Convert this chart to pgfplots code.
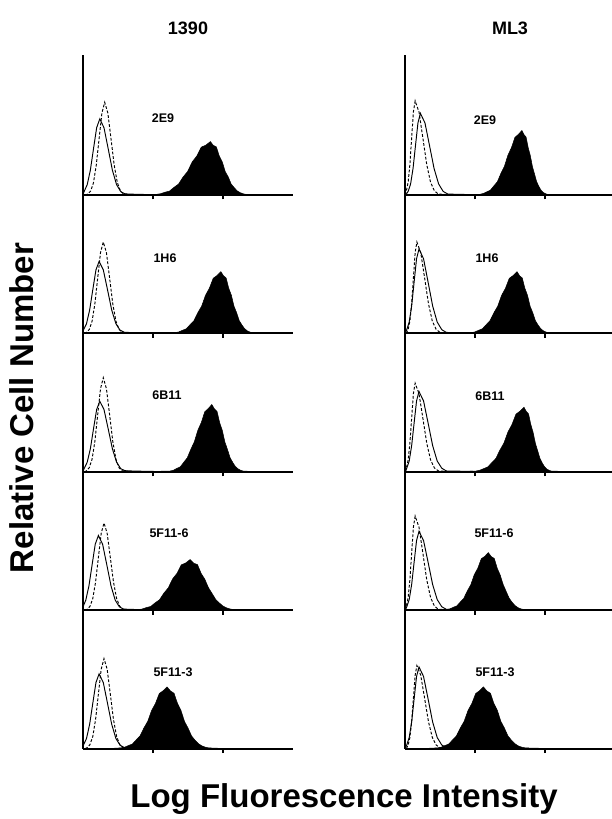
\documentclass[border=0pt]{standalone}
\usepackage{fontspec}
\setmainfont{Liberation Sans}
\usepackage{pgfplots}
\pgfplotsset{compat=1.18}
\pgfplotsset{
 panel/.style={scale only axis, width=210pt, height=138.4pt, xmin=0, xmax=3, ymin=0, ymax=1,
   axis x line=bottom, axis y line=left, axis line style={line width=2pt, -},
   xtick={1,2}, xticklabels={}, ytick=\empty, major tick length=4.5pt, tick align=outside,
   tick style={line width=1.6pt, black}, anchor=south west},
 ctrl/.style={black, line width=0.95pt},
 dctrl/.style={black, line width=0.95pt, dash pattern=on 2.8pt off 1.8pt},
 pos/.style={fill=black, draw=black, line width=0.5pt},
}
\begin{document}
\begin{tikzpicture}
\path[use as bounding box] (0,0) rectangle (611pt,819pt);
% ---------------- LEFT COLUMN (1390) ----------------
\begin{axis}[panel, at={(83pt,624pt)}, height=140pt, ymax=1.0116]
\addplot[pos] coordinates {(0.9,0.003)(1.04,0.004)(1.105,0.009)(1.17,0.020)(1.235,0.028)(1.30,0.055)(1.365,0.079)(1.43,0.130)(1.495,0.170)(1.56,0.239)(1.625,0.281)(1.69,0.346)(1.755,0.360)(1.82,0.386)(1.862,0.358)(1.905,0.348)(1.947,0.281)(1.99,0.239)(2.032,0.169)(2.075,0.130)(2.117,0.079)(2.16,0.053)(2.202,0.030)(2.245,0.017)(2.287,0.009)(2.33,0.004)(2.5,0.002)} \closedcycle;
\addplot[ctrl] coordinates {(0,0)(0.015,0.024)(0.06,0.074)(0.105,0.179)(0.15,0.334)(0.195,0.486)(0.24,0.55)(0.30,0.486)(0.36,0.334)(0.42,0.179)(0.48,0.074)(0.54,0.024)(0.60,0.008)(0.69,0.006)(0.84,0.004)(1.04,0.002)(1.3,0)};
\addplot[dctrl] coordinates {(0.03,0)(0.07,0.007)(0.11,0.029)(0.15,0.090)(0.19,0.218)(0.23,0.407)(0.27,0.592)(0.31,0.67)(0.355,0.592)(0.40,0.407)(0.445,0.218)(0.49,0.090)(0.535,0.029)(0.58,0.007)(0.66,0.004)};
\end{axis}
\begin{axis}[panel, at={(83pt,485.6pt)}]
\addplot[pos] coordinates {(1.15,0.003)(1.31,0.005)(1.365,0.010)(1.42,0.022)(1.475,0.033)(1.53,0.063)(1.585,0.092)(1.64,0.149)(1.695,0.197)(1.75,0.275)(1.805,0.326)(1.86,0.398)(1.915,0.418)(1.97,0.446)(2.007,0.416)(2.045,0.400)(2.082,0.326)(2.12,0.275)(2.157,0.196)(2.195,0.149)(2.232,0.092)(2.27,0.061)(2.307,0.035)(2.345,0.019)(2.382,0.010)(2.42,0.005)(2.55,0.002)} \closedcycle;
\addplot[ctrl] coordinates {(0,0)(0.005,0.023)(0.05,0.070)(0.095,0.169)(0.14,0.316)(0.185,0.459)(0.23,0.52)(0.29,0.459)(0.35,0.316)(0.41,0.169)(0.47,0.070)(0.53,0.023)(0.59,0.008)(0.68,0.006)(0.83,0.004)(1.03,0.002)(1.3,0)};
\addplot[dctrl] coordinates {(0.02,0)(0.05,0.007)(0.09,0.029)(0.13,0.089)(0.17,0.215)(0.21,0.401)(0.25,0.583)(0.29,0.66)(0.335,0.583)(0.38,0.401)(0.425,0.215)(0.47,0.089)(0.515,0.029)(0.56,0.007)(0.64,0.004)};
\end{axis}
\begin{axis}[panel, at={(83pt,347.2pt)}]
\addplot[pos] coordinates {(1.0,0.003)(1.24,0.005)(1.29,0.011)(1.34,0.024)(1.39,0.036)(1.44,0.069)(1.49,0.101)(1.54,0.162)(1.59,0.216)(1.64,0.299)(1.69,0.356)(1.74,0.434)(1.79,0.457)(1.84,0.486)(1.877,0.455)(1.915,0.436)(1.952,0.356)(1.99,0.299)(2.027,0.215)(2.065,0.159)(2.102,0.101)(2.14,0.067)(2.177,0.038)(2.215,0.021)(2.252,0.011)(2.29,0.005)(2.45,0.002)} \closedcycle;
\addplot[ctrl] coordinates {(0,0)(0.015,0.022)(0.06,0.069)(0.105,0.166)(0.15,0.310)(0.195,0.450)(0.24,0.51)(0.30,0.450)(0.36,0.310)(0.42,0.166)(0.48,0.069)(0.54,0.022)(0.60,0.008)(0.69,0.006)(0.84,0.004)(1.04,0.002)(1.3,0)};
\addplot[dctrl] coordinates {(0.02,0)(0.05,0.007)(0.09,0.030)(0.13,0.092)(0.17,0.221)(0.21,0.413)(0.25,0.600)(0.29,0.68)(0.335,0.600)(0.38,0.413)(0.425,0.221)(0.47,0.092)(0.515,0.030)(0.56,0.007)(0.64,0.004)};
\end{axis}
\begin{axis}[panel, at={(83pt,208.8pt)}]
\addplot[pos] coordinates {(0.65,0.003)(0.78,0.004)(0.8425,0.008)(0.905,0.019)(0.9675,0.027)(1.03,0.053)(1.0925,0.075)(1.155,0.123)(1.2175,0.161)(1.28,0.226)(1.3425,0.266)(1.405,0.328)(1.4675,0.341)(1.53,0.366)(1.5825,0.339)(1.635,0.330)(1.6875,0.266)(1.74,0.224)(1.7925,0.162)(1.845,0.120)(1.8975,0.076)(1.95,0.051)(2.0025,0.029)(2.055,0.016)(2.1075,0.008)(2.16,0.004)(2.3,0.002)} \closedcycle;
\addplot[ctrl] coordinates {(0,0)(0,0.024)(0.04,0.073)(0.085,0.176)(0.13,0.328)(0.175,0.477)(0.22,0.54)(0.28,0.477)(0.34,0.328)(0.40,0.176)(0.46,0.073)(0.52,0.024)(0.58,0.008)(0.67,0.006)(0.82,0.004)(1.02,0.002)(1.3,0)};
\addplot[dctrl] coordinates {(0.03,0)(0.06,0.007)(0.10,0.028)(0.14,0.085)(0.18,0.205)(0.22,0.382)(0.26,0.556)(0.30,0.63)(0.345,0.556)(0.39,0.382)(0.435,0.205)(0.48,0.085)(0.525,0.028)(0.57,0.007)(0.65,0.004)};
\end{axis}
\begin{axis}[panel, at={(83pt,70.4pt)}]
\addplot[pos] coordinates {(0.45,0.003)(0.54,0.005)(0.595,0.010)(0.65,0.022)(0.705,0.033)(0.76,0.063)(0.815,0.092)(0.87,0.149)(0.925,0.197)(0.98,0.275)(1.035,0.326)(1.09,0.398)(1.145,0.418)(1.2,0.446)(1.25,0.416)(1.30,0.400)(1.35,0.326)(1.40,0.275)(1.45,0.196)(1.50,0.149)(1.55,0.092)(1.60,0.061)(1.65,0.035)(1.70,0.019)(1.75,0.010)(1.80,0.005)(1.95,0.002)} \closedcycle;
\addplot[ctrl] coordinates {(0,0)(0.005,0.024)(0.05,0.073)(0.095,0.176)(0.14,0.328)(0.185,0.477)(0.23,0.54)(0.29,0.477)(0.35,0.328)(0.41,0.176)(0.47,0.073)(0.53,0.024)(0.59,0.008)(0.68,0.006)(0.83,0.004)(1.03,0.002)(1.3,0)};
\addplot[dctrl] coordinates {(0.03,0)(0.06,0.007)(0.10,0.029)(0.14,0.088)(0.18,0.211)(0.22,0.395)(0.26,0.574)(0.30,0.65)(0.345,0.574)(0.39,0.395)(0.435,0.211)(0.48,0.088)(0.525,0.029)(0.57,0.007)(0.65,0.004)};
\end{axis}
% ---------------- RIGHT COLUMN (ML3) ----------------
\begin{axis}[panel, at={(405pt,624pt)}, height=140pt, ymax=1.0116]
\addplot[pos] coordinates {(0.9,0.003)(1.07,0.005)(1.12,0.011)(1.17,0.023)(1.22,0.035)(1.27,0.066)(1.32,0.096)(1.37,0.156)(1.42,0.207)(1.47,0.287)(1.52,0.341)(1.57,0.416)(1.62,0.438)(1.67,0.466)(1.70,0.436)(1.73,0.418)(1.76,0.341)(1.79,0.285)(1.82,0.206)(1.85,0.152)(1.88,0.097)(1.91,0.064)(1.94,0.037)(1.97,0.020)(2.00,0.011)(2.03,0.005)(2.3,0.002)} \closedcycle;
\addplot[ctrl] coordinates {(0,0)(0.02,0.008)(0.045,0.026)(0.08,0.080)(0.115,0.192)(0.15,0.358)(0.185,0.521)(0.22,0.59)(0.285,0.521)(0.35,0.358)(0.415,0.192)(0.48,0.080)(0.545,0.026)(0.61,0.007)(0.72,0.005)(0.92,0.003)(1.2,0)};
\addplot[dctrl] coordinates {(0.005,0)(0.02,0.030)(0.045,0.092)(0.07,0.221)(0.095,0.413)(0.12,0.600)(0.145,0.68)(0.20,0.600)(0.255,0.413)(0.31,0.221)(0.365,0.092)(0.42,0.030)(0.475,0.007)(0.565,0.004)};
\end{axis}
\begin{axis}[panel, at={(405pt,485.6pt)}]
\addplot[pos] coordinates {(0.8,0.003)(0.94,0.005)(0.995,0.010)(1.05,0.022)(1.105,0.033)(1.16,0.063)(1.215,0.092)(1.27,0.149)(1.325,0.197)(1.38,0.275)(1.435,0.326)(1.49,0.398)(1.545,0.418)(1.60,0.446)(1.6375,0.416)(1.675,0.400)(1.7125,0.326)(1.75,0.275)(1.7875,0.196)(1.825,0.149)(1.8625,0.092)(1.90,0.061)(1.9375,0.035)(1.975,0.019)(2.0125,0.010)(2.05,0.005)(2.3,0.002)} \closedcycle;
\addplot[ctrl] coordinates {(0,0)(0.01,0.008)(0.025,0.027)(0.06,0.082)(0.095,0.198)(0.13,0.370)(0.165,0.539)(0.20,0.61)(0.265,0.539)(0.33,0.370)(0.395,0.198)(0.46,0.082)(0.525,0.027)(0.59,0.007)(0.70,0.005)(0.90,0.003)(1.2,0)};
\addplot[dctrl] coordinates {(0.02,0)(0.045,0.029)(0.07,0.089)(0.095,0.215)(0.12,0.401)(0.145,0.583)(0.17,0.66)(0.225,0.583)(0.28,0.401)(0.335,0.215)(0.39,0.089)(0.445,0.029)(0.50,0.007)(0.59,0.004)};
\end{axis}
\begin{axis}[panel, at={(405pt,347.2pt)}]
\addplot[pos] coordinates {(0.85,0.003)(1.01,0.005)(1.0675,0.011)(1.125,0.023)(1.1825,0.035)(1.24,0.066)(1.2975,0.096)(1.355,0.156)(1.4125,0.207)(1.47,0.287)(1.5275,0.341)(1.585,0.416)(1.6425,0.438)(1.70,0.466)(1.7325,0.436)(1.765,0.418)(1.7975,0.341)(1.83,0.285)(1.8625,0.206)(1.895,0.152)(1.9275,0.097)(1.96,0.064)(1.9925,0.037)(2.025,0.020)(2.0575,0.011)(2.09,0.005)(2.35,0.002)} \closedcycle;
\addplot[ctrl] coordinates {(0,0)(0.01,0.008)(0.025,0.026)(0.06,0.078)(0.095,0.189)(0.13,0.352)(0.165,0.512)(0.20,0.58)(0.265,0.512)(0.33,0.352)(0.395,0.189)(0.46,0.078)(0.525,0.026)(0.59,0.006)(0.70,0.005)(0.90,0.003)(1.2,0)};
\addplot[dctrl] coordinates {(0.005,0)(0.02,0.028)(0.045,0.086)(0.07,0.208)(0.095,0.388)(0.12,0.565)(0.145,0.64)(0.20,0.565)(0.255,0.388)(0.31,0.208)(0.365,0.086)(0.42,0.028)(0.475,0.007)(0.565,0.004)};
\end{axis}
\begin{axis}[panel, at={(405pt,208.8pt)}]
\addplot[pos] coordinates {(0.45,0.003)(0.59,0.005)(0.64,0.009)(0.69,0.021)(0.74,0.031)(0.79,0.059)(0.84,0.086)(0.89,0.139)(0.94,0.184)(0.99,0.257)(1.04,0.303)(1.09,0.372)(1.14,0.389)(1.19,0.416)(1.2325,0.387)(1.275,0.374)(1.3175,0.303)(1.36,0.254)(1.4025,0.185)(1.445,0.136)(1.4875,0.087)(1.53,0.057)(1.5725,0.033)(1.615,0.018)(1.6575,0.009)(1.70,0.005)(1.95,0.002)} \closedcycle;
\addplot[ctrl] coordinates {(0,0)(0.01,0.008)(0.025,0.025)(0.06,0.077)(0.095,0.185)(0.13,0.346)(0.165,0.503)(0.20,0.57)(0.265,0.503)(0.33,0.346)(0.395,0.185)(0.46,0.077)(0.525,0.025)(0.59,0.006)(0.70,0.005)(0.90,0.003)(1.2,0)};
\addplot[dctrl] coordinates {(0.005,0)(0.02,0.030)(0.045,0.092)(0.07,0.221)(0.095,0.413)(0.12,0.600)(0.145,0.68)(0.20,0.600)(0.255,0.413)(0.31,0.221)(0.365,0.092)(0.42,0.030)(0.475,0.007)(0.565,0.004)};
\end{axis}
\begin{axis}[panel, at={(405pt,70.4pt)}]
\addplot[pos] coordinates {(0.35,0.003)(0.46,0.005)(0.515,0.010)(0.57,0.022)(0.625,0.033)(0.68,0.063)(0.735,0.092)(0.79,0.149)(0.845,0.197)(0.90,0.275)(0.955,0.326)(1.01,0.398)(1.065,0.418)(1.12,0.446)(1.17,0.416)(1.22,0.400)(1.27,0.326)(1.32,0.275)(1.37,0.196)(1.42,0.149)(1.47,0.092)(1.52,0.061)(1.57,0.035)(1.62,0.019)(1.67,0.010)(1.72,0.005)(1.95,0.002)} \closedcycle;
\addplot[ctrl] coordinates {(0,0)(0.01,0.008)(0.025,0.026)(0.06,0.080)(0.095,0.192)(0.13,0.358)(0.165,0.521)(0.20,0.59)(0.265,0.521)(0.33,0.358)(0.395,0.192)(0.46,0.080)(0.525,0.026)(0.59,0.007)(0.70,0.005)(0.90,0.003)(1.2,0)};
\addplot[dctrl] coordinates {(0.02,0)(0.045,0.026)(0.07,0.081)(0.095,0.195)(0.12,0.364)(0.145,0.530)(0.17,0.60)(0.225,0.530)(0.28,0.364)(0.335,0.195)(0.39,0.081)(0.445,0.026)(0.50,0.007)(0.59,0.004)};
\end{axis}
% ---------------- TEXT ----------------
\begin{scope}[every node/.style={font=\bfseries\fontsize{12.5}{14}\selectfont, inner sep=0pt}]
\node at (163pt,701pt) {2E9};
\node at (165pt,561pt) {1H6};
\node at (167pt,424pt) {6B11};
\node at (169pt,286pt) {5F11-6};
\node at (173pt,147pt) {5F11-3};
\node at (485pt,699pt) {2E9};
\node at (487pt,561pt) {1H6};
\node at (490pt,423pt) {6B11};
\node at (494pt,286pt) {5F11-6};
\node at (495pt,147pt) {5F11-3};
\end{scope}
\node[font=\bfseries\fontsize{18}{20}\selectfont, inner sep=0pt] at (188pt,791pt) {1390};
\node[font=\bfseries\fontsize{18}{20}\selectfont, inner sep=0pt] at (510pt,791pt) {ML3};
\node[font=\bfseries\fontsize{33}{36}\selectfont, inner sep=0pt, rotate=90] at (22pt,411pt) {Relative Cell Number};
\node[font=\bfseries\fontsize{33}{36}\selectfont, inner sep=0pt] at (344pt,20pt) {Log Fluorescence Intensity};
\end{tikzpicture}
\end{document}
